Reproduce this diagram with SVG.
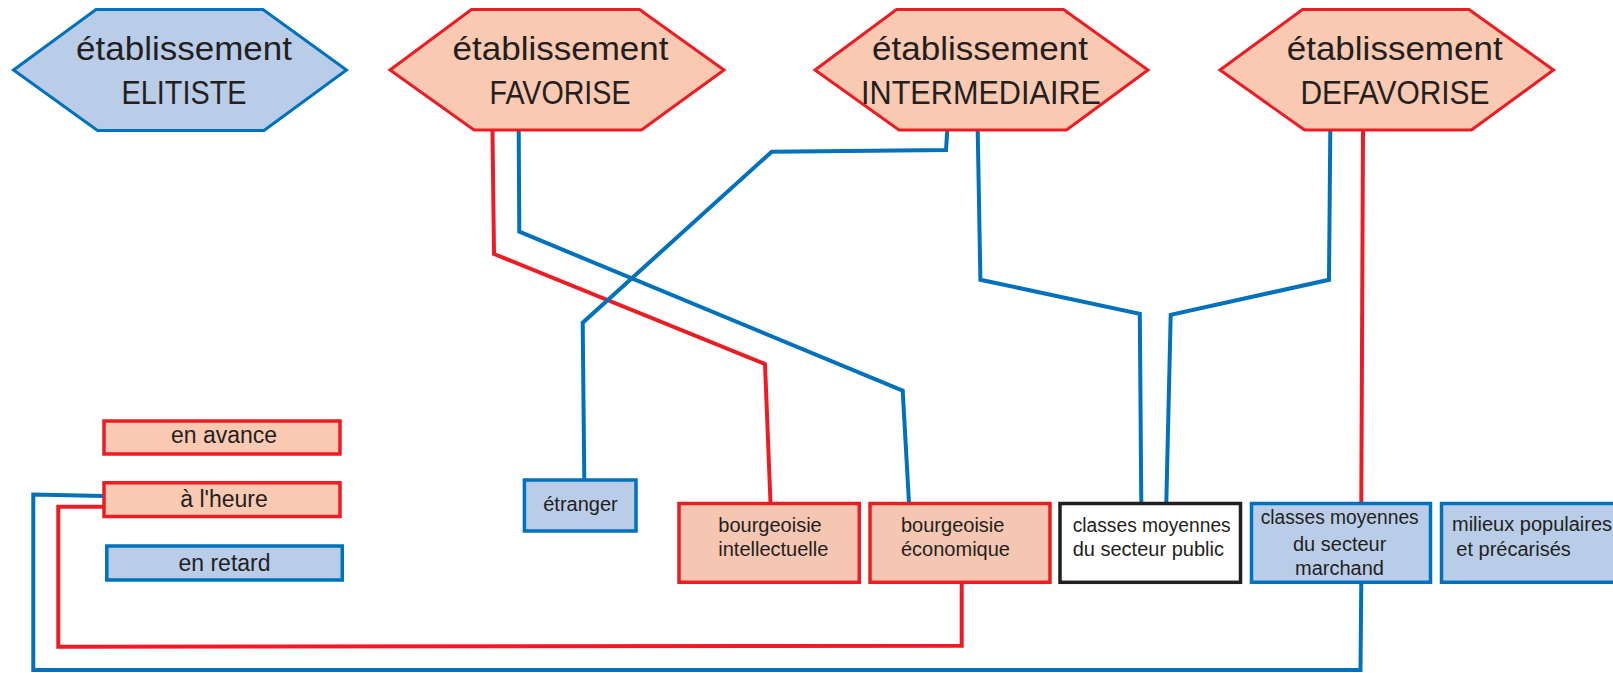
<svg xmlns="http://www.w3.org/2000/svg" width="1613" height="673" viewBox="0 0 1613 673">
<style>
.hexS{fill:#f9c9b2;stroke:#ed1c24;stroke-width:3;stroke-linejoin:miter}
.hexB{fill:#b9cde9;stroke:#0071bc;stroke-width:3;stroke-linejoin:miter}
.boxR{fill:#f9c9b2;stroke:#ed1c24;stroke-width:3.5}
.boxR2{fill:#f5c6b1;stroke:#ed1c24;stroke-width:3.5}
.boxB{fill:#b9cde9;stroke:#0071bc;stroke-width:3.5}
.boxW{fill:#ffffff;stroke:#231f20;stroke-width:3.5}
.cR{fill:none;stroke:#ed1c24;stroke-width:4;stroke-linejoin:miter}
.cB{fill:none;stroke:#0071bc;stroke-width:4;stroke-linejoin:miter}
text{font-family:"Liberation Sans",Arial,sans-serif;fill:#231f20}
.big{font-size:33px;text-anchor:middle}
.leg{font-size:23px;text-anchor:middle}
.sm{font-size:20px}
.smc{font-size:20px;text-anchor:middle}
</style>
<rect width="1613" height="673" fill="#ffffff"/>
<g id="connectors">
<polyline class="cR" points="492.5,130 494,254 765,364 770.5,503"/>
<polyline class="cB" points="518.7,130 519.3,231.7 902.7,390.7 909,503"/>
<polyline class="cB" points="947.3,130 946,150 771.7,151.7 582.7,322.7 584.3,480"/>
<polyline class="cB" points="977.7,130 980.4,279.8 1139.8,313.8 1141.3,503"/>
<polyline class="cB" points="1330.3,130 1329,279.8 1170.7,314.8 1166.3,503"/>
<polyline class="cR" points="1363,130 1361.3,503"/>
<polyline class="cR" points="961.7,582 961.7,645.7 58.3,646.7 58.3,506.7 104,506.7"/>
<polyline class="cB" points="1361.3,582 1360.5,670 33.3,670 33.3,494.5 104,496"/>
</g>
<g id="etab-elitiste">
<polygon class="hexB" points="13.5,70 96,9.5 263,9.5 346.5,70 264,130.5 97.5,130.5"/>
<text class="big" x="184" y="59.5" textLength="216" lengthAdjust="spacingAndGlyphs">établissement</text>
<text class="big" x="184" y="104" textLength="125" lengthAdjust="spacingAndGlyphs">ELITISTE</text>
</g>
<g id="etab-favorise">
<polygon class="hexS" points="390,70 471.5,9.5 639.5,9.5 724,70 641.5,130 474,130"/>
<text class="big" x="560.5" y="59.5" textLength="216" lengthAdjust="spacingAndGlyphs">établissement</text>
<text class="big" x="560" y="104" textLength="141" lengthAdjust="spacingAndGlyphs">FAVORISE</text>
</g>
<g id="etab-intermediaire">
<polygon class="hexS" points="815,70 896.5,9.5 1063.5,9.5 1148,70 1066.5,130 899,130"/>
<text class="big" x="980" y="59.5" textLength="216" lengthAdjust="spacingAndGlyphs">établissement</text>
<text class="big" x="981" y="104" textLength="240" lengthAdjust="spacingAndGlyphs">INTERMEDIAIRE</text>
</g>
<g id="etab-defavorise">
<polygon class="hexS" points="1220,70 1302.5,9.5 1469,9.5 1553.5,70 1471.5,130 1304.5,130"/>
<text class="big" x="1394.7" y="59.5" textLength="216" lengthAdjust="spacingAndGlyphs">établissement</text>
<text class="big" x="1395" y="104" textLength="189" lengthAdjust="spacingAndGlyphs">DEFAVORISE</text>
</g>
<g id="legend-avance">
<rect class="boxR" x="104" y="421" width="236" height="33"/>
<text class="leg" x="224" y="442.7">en avance</text>
</g>
<g id="legend-heure">
<rect class="boxR" x="104" y="482.8" width="236" height="33.7"/>
<text class="leg" x="224" y="506.7">à l'heure</text>
</g>
<g id="legend-retard">
<rect class="boxB" x="106.8" y="546" width="235.5" height="34"/>
<text class="leg" x="224.5" y="570.7">en retard</text>
</g>
<g id="etranger">
<rect class="boxB" x="524.4" y="480" width="111.6" height="51"/>
<text class="smc" x="580.5" y="511">étranger</text>
</g>
<g id="bourgeoisie-intellectuelle">
<rect class="boxR2" x="679" y="503.5" width="180.3" height="78.8"/>
<text class="sm" x="718.3" y="531.7">bourgeoisie</text>
<text class="sm" x="718.3" y="556">intellectuelle</text>
</g>
<g id="bourgeoisie-economique">
<rect class="boxR2" x="870" y="503.5" width="180" height="78.8"/>
<text class="sm" x="901" y="531.7">bourgeoisie</text>
<text class="sm" x="901" y="556">économique</text>
</g>
<g id="classes-moyennes-public">
<rect class="boxW" x="1060" y="503.5" width="180.5" height="78.8"/>
<text class="sm" x="1072.7" y="531.7" textLength="158" lengthAdjust="spacingAndGlyphs">classes moyennes</text>
<text class="sm" x="1072.7" y="556">du secteur public</text>
</g>
<g id="classes-moyennes-marchand">
<rect class="boxB" x="1251.5" y="503.5" width="179" height="78.8"/>
<text class="smc" x="1339.7" y="524.3" textLength="158" lengthAdjust="spacingAndGlyphs">classes moyennes</text>
<text class="smc" x="1339.7" y="550.7">du secteur</text>
<text class="smc" x="1339.5" y="575">marchand</text>
</g>
<g id="milieux-populaires">
<rect class="boxB" x="1441.5" y="503.5" width="200" height="78.8"/>
<text class="sm" x="1452" y="530.7">milieux populaires</text>
<text class="sm" x="1456.3" y="556">et précarisés</text>
</g>
</svg>
